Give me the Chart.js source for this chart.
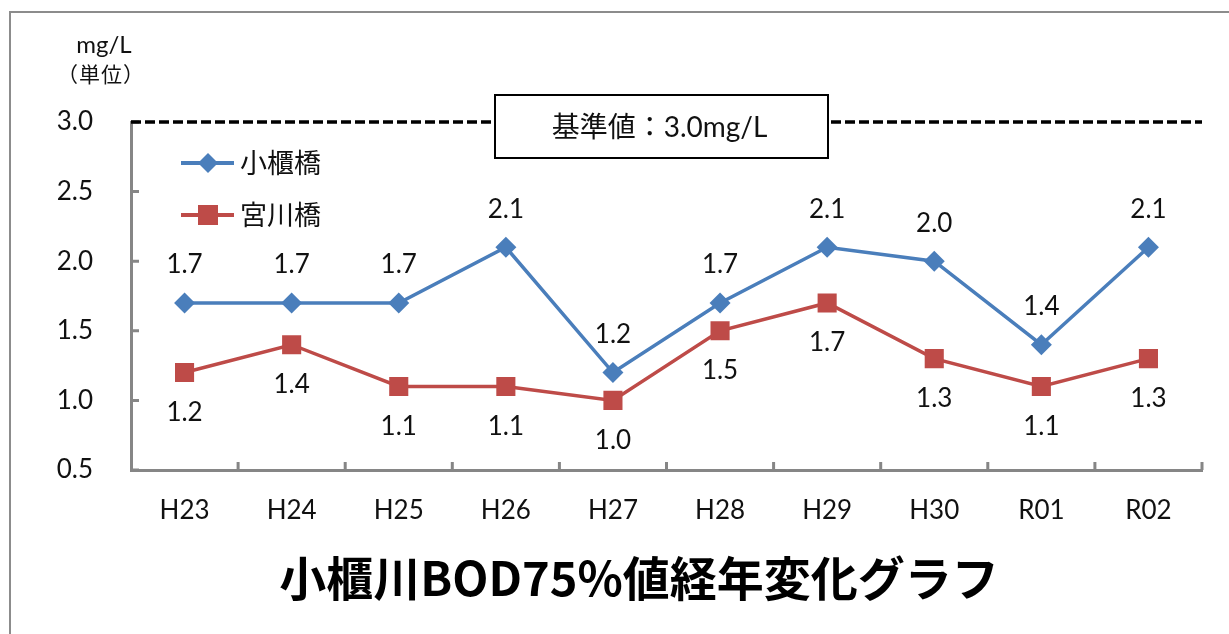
<!DOCTYPE html>
<html>
<head>
<meta charset="utf-8">
<script src="https://cdn.jsdelivr.net/npm/chart.js@4/dist/chart.umd.min.js"></script>
<style>
  html, body { margin: 0; padding: 0; background: #fff; }
  #wrap { position: relative; width: 1229px; height: 634px; }
</style>
</head>
<body>
<div id="wrap"><canvas id="c" width="1229" height="634"></canvas></div>
<script>
const categories = ['H23','H24','H25','H26','H27','H28','H29','H30','R01','R02'];
const obitsuBashi = [1.7,1.7,1.7,2.1,1.2,1.7,2.1,2.0,1.4,2.1];
const miyagawaBashi = [1.2,1.4,1.1,1.1,1.0,1.5,1.7,1.3,1.1,1.3];
const yTickValues = [0.5,1.0,1.5,2.0,2.5,3.0];
const standardValue = 3.0;
const seriesNames = ['小櫃橋','宮川橋'];
const seriesColors = ['#4A7EBB','#BE4B48'];
const titleText = '小櫃川BOD75%値経年変化グラフ';
const unitLines = ['mg/L','（単位）'];
const standardLabel = '基準値：3.0mg/L';

const NUM_FONT = "Lato, 'Noto Sans CJK JP', sans-serif";
const CJK_FONT = "'Noto Sans CJK JP', sans-serif";

const decor = {
  id: 'decor',
  afterDatasetsDraw(chart) {
    const ctx = chart.ctx;
    const ca = chart.chartArea;
    const xs = chart.scales.x, ys = chart.scales.y;
    ctx.save();
    // outer frame
    ctx.strokeStyle = '#8c8c8c';
    ctx.lineWidth = 2;
    ctx.beginPath();
    ctx.moveTo(10, 640); ctx.lineTo(10, 12); ctx.lineTo(1240, 12);
    ctx.stroke();

    // inward ticks
    ctx.strokeStyle = '#868686';
    ctx.lineWidth = 3;
    ctx.beginPath();
    yTickValues.forEach(v => {
      const y = ys.getPixelForValue(v);
      ctx.moveTo(ca.left, y); ctx.lineTo(ca.left + 8, y);
    });
    for (let i = 1; i <= categories.length; i++) {
      const x = i < categories.length ? (xs.getPixelForValue(i - 1) + xs.getPixelForValue(i)) / 2 : ca.right;
      ctx.moveTo(x, ca.bottom); ctx.lineTo(x, ca.bottom - 8);
    }
    ctx.stroke();

    // standard dashed line
    const sy = ys.getPixelForValue(standardValue);
    ctx.strokeStyle = '#000';
    ctx.lineWidth = 3.5;
    ctx.setLineDash([10, 4]);
    ctx.beginPath();
    ctx.moveTo(ca.left, sy); ctx.lineTo(ca.right, sy);
    ctx.stroke();
    ctx.setLineDash([]);

    // standard label box
    const bx = 495, bw = 333, bh = 63, by = sy - 27;
    ctx.fillStyle = '#fff';
    ctx.fillRect(bx, by, bw, bh);
    ctx.strokeStyle = '#000';
    ctx.lineWidth = 2;
    ctx.strokeRect(bx, by, bw, bh);
    ctx.fillStyle = '#111';
    ctx.font = '28px ' + NUM_FONT;
    ctx.textAlign = 'center';
    ctx.textBaseline = 'middle';
    ctx.fillText(standardLabel, bx + bw / 2 - 2, by + bh / 2 + 1);

    // data labels
    ctx.font = '26px ' + NUM_FONT;
    ctx.fillStyle = '#111';
    chart.getDatasetMeta(0).data.forEach((pt, i) => {
      ctx.fillText(obitsuBashi[i].toFixed(1), pt.x, pt.y - 38);
    });
    chart.getDatasetMeta(1).data.forEach((pt, i) => {
      ctx.fillText(miyagawaBashi[i].toFixed(1), pt.x, pt.y + 40);
    });

    // legend
    const legY = [163, 215];
    seriesNames.forEach((name, i) => {
      const y = legY[i];
      ctx.strokeStyle = seriesColors[i];
      ctx.lineWidth = 4;
      ctx.beginPath();
      ctx.moveTo(181, y); ctx.lineTo(234, y);
      ctx.stroke();
      ctx.fillStyle = seriesColors[i];
      if (i === 0) {
        ctx.beginPath();
        ctx.moveTo(208, y - 10); ctx.lineTo(218, y); ctx.lineTo(208, y + 10); ctx.lineTo(198, y);
        ctx.closePath(); ctx.fill();
      } else {
        ctx.fillRect(198, y - 10, 20, 20);
      }
      ctx.fillStyle = '#111';
      ctx.font = '27px ' + CJK_FONT;
      ctx.textAlign = 'left';
      ctx.fillText(name, 240, y);
    });

    // unit labels
    ctx.textAlign = 'center';
    ctx.font = '24px ' + NUM_FONT;
    ctx.fillText(unitLines[0], 104, 45);
    ctx.font = '21px ' + CJK_FONT;
    ctx.letterSpacing = '1px';
    ctx.fillText(unitLines[1], 101, 74);
    ctx.letterSpacing = '0px';

    // title
    ctx.font = 'bold 47px ' + CJK_FONT;
    ctx.fillStyle = '#000';
    ctx.fillText(titleText, 639, 578);
    ctx.restore();
  }
};

new Chart(document.getElementById('c'), {
  type: 'line',
  data: {
    labels: categories,
    datasets: [
      {
        label: seriesNames[0],
        data: obitsuBashi,
        borderColor: seriesColors[0],
        backgroundColor: seriesColors[0],
        borderWidth: 3.5,
        pointStyle: 'rectRot',
        pointRadius: 10.5,
        pointBorderWidth: 0,
        tension: 0
      },
      {
        label: seriesNames[1],
        data: miyagawaBashi,
        borderColor: seriesColors[1],
        backgroundColor: seriesColors[1],
        borderWidth: 3.5,
        pointStyle: 'rect',
        pointRadius: 13.5,
        pointBorderWidth: 0,
        tension: 0
      }
    ]
  },
  options: {
    responsive: false,
    animation: false,
    layout: { padding: { left: 0, right: 27, top: 122, bottom: 0 } },
    plugins: { legend: { display: false }, title: { display: false }, tooltip: { enabled: false } },
    scales: {
      x: {
        offset: true,
        grid: { display: false, drawTicks: false },
        border: { display: true, color: '#868686', width: 3 },
        ticks: { color: '#111', font: { family: NUM_FONT, size: 26 }, padding: 25, maxRotation: 0, autoSkip: false },
        afterFit(s) { s.height = 164; }
      },
      y: {
        min: 0.5, max: 3.0,
        grid: { display: false, drawTicks: false },
        border: { display: true, color: '#868686', width: 3 },
        afterBuildTicks(s) { s.ticks = yTickValues.map(v => ({ value: v })); },
        ticks: { color: '#111', font: { family: NUM_FONT, size: 26 }, padding: 38, callback: v => Number(v).toFixed(1) },
        afterFit(s) { s.width = 131; }
      }
    }
  },
  plugins: [decor]
});
</script>
</body>
</html>
